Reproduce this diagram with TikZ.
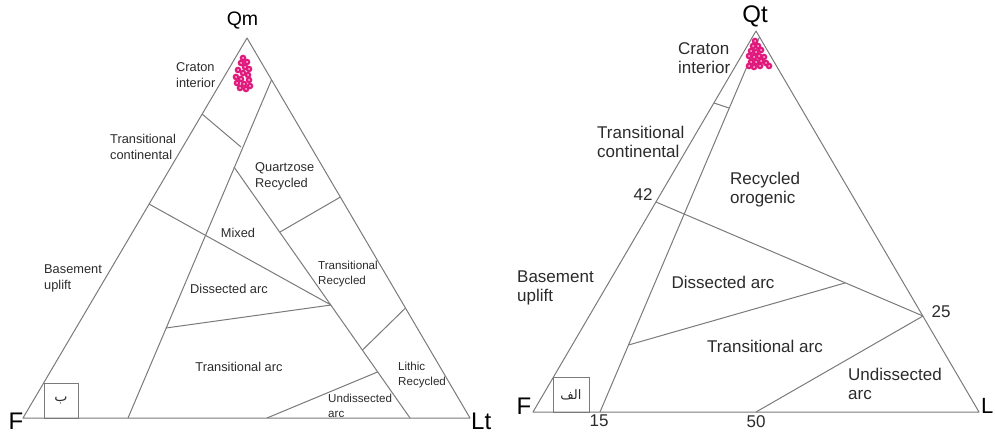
\documentclass[tikz,border=0pt]{standalone}
\usepackage{fontspec}
\setmainfont{Liberation Sans}
\newfontfamily\arabicfont[Script=Arabic]{DejaVu Sans}
\TeXXeTstate=1
\definecolor{linegray}{HTML}{7A7A7A}
\definecolor{txt}{HTML}{2B2B2B}
\definecolor{pink}{HTML}{E0197D}
\begin{document}
\begin{tikzpicture}[x=1pt,y=-1pt,
  edge/.style={draw=linegray,line width=1pt,line join=round},
  lblA/.style={inner sep=0pt,text=txt,font=\fontsize{12.8}{16}\selectfont,align=left},
  lblS/.style={inner sep=0pt,text=txt,font=\fontsize{11.6}{15}\selectfont,align=left},
  lblB/.style={inner sep=0pt,text=txt,font=\fontsize{17}{19}\selectfont,align=left},
  num/.style={inner sep=0pt,text=txt,font=\fontsize{17}{19}\selectfont},
  apexA/.style={inner sep=0pt,text=black,font=\fontsize{19.5}{22}\selectfont},
  apexB/.style={inner sep=0pt,text=black,font=\fontsize{24}{26}\selectfont},
  corner/.style={inner sep=0pt,text=black,font=\fontsize{24}{26}\selectfont},
  arbox/.style={draw=linegray,line width=1pt,inner sep=0pt},
  pdot/.style={draw=pink,line width=2.3pt}]
\useasboundingbox (0,0) rectangle (995,433);

%% ---------------- Left diagram (Qm F Lt) ----------------
\coordinate (Qm) at (247,38);
\coordinate (F1) at (23,418);
\coordinate (Lt) at (470,418);
\coordinate (c1) at (202,114);
\coordinate (c2) at (241,147);
\coordinate (r1) at (271.5,80);
\coordinate (b1) at (128,418);
\coordinate (i1) at (234,167);
\coordinate (b2) at (410,418);
\coordinate (l1) at (149,204);
\coordinate (m1) at (331,305);
\coordinate (d1) at (166,328);
\coordinate (q1) at (280,232);
\coordinate (q2) at (340.5,197);
\coordinate (t1) at (362.5,350);
\coordinate (t2) at (405.5,308);
\coordinate (u1) at (267,418);
\coordinate (u2) at (377.5,372);

\draw[edge] (Qm) -- (F1) -- (Lt) -- cycle;
\draw[edge] (c1) -- (c2);
\draw[edge] (r1) -- (b1);
\draw[edge] (i1) -- (b2);
\draw[edge] (l1) -- (m1);
\draw[edge] (d1) -- (m1);
\draw[edge] (q1) -- (q2);
\draw[edge] (t1) -- (t2);
\draw[edge] (u1) -- (u2);

\node[arbox,minimum width=34pt,minimum height=35pt] (boxA) at (61,400.5) {};
\node[inner sep=0pt,text=txt,font=\arabicfont\fontsize{14}{16}\selectfont] (arA) at (boxA.center) {\beginR ب\endR};

\node[apexA] (lQm) at (242.5,21) {Qm};
\node[corner,anchor=north] (lF1) at (16,413) {F};
\node[corner,anchor=north west] (lLt) at (471,413) {Lt};

\node[lblA,anchor=west] (nCraA) at (176,75) {Craton\\interior};
\node[lblA,anchor=west] (nTcA) at (110,146.5) {Transitional\\continental};
\node[lblA,anchor=west] (nQrA) at (255,176) {Quartzose\\Recycled};
\node[lblA] (nMixA) at (238,233) {Mixed};
\node[lblA,anchor=west] (nBuA) at (44,278) {Basement\\uplift};
\node[lblA] (nDaA) at (229,289) {Dissected arc};
\node[lblS,anchor=west] (nTrA) at (318,273.5) {Transitional\\Recycled};
\node[lblA] (nTaA) at (239,367) {Transitional arc};
\node[lblS,anchor=west] (nLrA) at (398,375) {Lithic\\Recycled};
\node[lblS,anchor=west] (nUaA) at (328,405.5) {Undissected\\arc};

\foreach \p in {(243,58),(247,62),(241,63),(245,67),(249,69),(238,70),(243,73),(248,75),(236,77),(241,79),(249,80),(237,83),(244,84),(250,86),(246,89),(240,88)}
  \draw[pdot] \p circle[radius=2.1pt];

%% ---------------- Right diagram (Qt F L) ----------------
\coordinate (Qt) at (756,31);
\coordinate (F2) at (533,412);
\coordinate (L2) at (979,412);
\coordinate (k1) at (759.5,37);
\coordinate (k2) at (600,412);
\coordinate (tk1) at (714,103);
\coordinate (tk2) at (729,108);
\coordinate (p42) at (656,202);
\coordinate (p25) at (923,316);
\coordinate (s1) at (628.5,345);
\coordinate (s2) at (845,283);
\coordinate (p50) at (756,412);

\draw[edge] (Qt) -- (F2) -- (L2) -- cycle;
\draw[edge] (k1) -- (k2);
\draw[edge] (tk1) -- (tk2);
\draw[edge] (p42) -- (p25);
\draw[edge] (s1) -- (s2);
\draw[edge] (p25) -- (p50);

\node[arbox,minimum width=36pt,minimum height=35pt] (boxB) at (571,394.5) {};
\node[inner sep=0pt,text=txt,font=\arabicfont\fontsize{13}{16}\selectfont] (arB) at (boxB.center) {\beginR الف\endR};

\node[apexB] (lQt) at (755,16) {Qt};
\node[corner,anchor=north] (lF2) at (524,398) {F};
\node[corner,anchor=north west,font=\fontsize{22}{24}\selectfont] (lL2) at (981,398) {L};

\node[lblB,anchor=west] (nCraB) at (678,58.5) {Craton\\interior};
\node[lblB,anchor=west] (nTcB) at (597,141.5) {Transitional\\continental};
\node[lblB,anchor=west] (nRoB) at (730,189.5) {Recycled\\orogenic};
\node[num] (n42) at (643,195) {42};
\node[lblB,anchor=west] (nBuB) at (517,287.5) {Basement\\uplift};
\node[lblB] (nDaB) at (723,282) {Dissected arc};
\node[num] (n25) at (941,312) {25};
\node[lblB] (nTaB) at (765,346) {Transitional arc};
\node[lblB,anchor=west] (nUaB) at (848,383.5) {Undissected\\arc};
\node[num] (n15) at (599,421) {15};
\node[num] (n50) at (756,422) {50};

\foreach \p in {(755,41),(753,46),(758,46),(751,51),(756,52),(761,50),(749,56),(754,57),(759,56),(764,57),(751,62),(756,62),(761,61),(766,63),(769,66),(749,66),(754,67),(760,66)}
  \draw[pdot] \p circle[radius=2.1pt];
\end{tikzpicture}
\end{document}
